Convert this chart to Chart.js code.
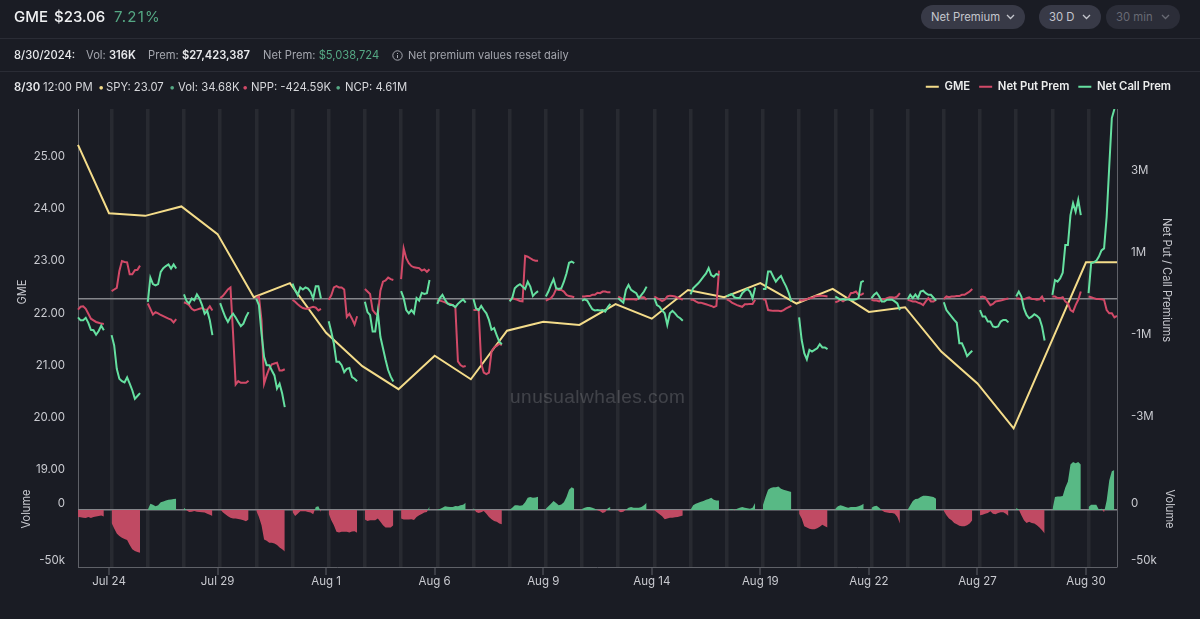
<!DOCTYPE html>
<html>
<head>
<meta charset="utf-8">
<script src="https://cdn.jsdelivr.net/npm/chart.js@4"></script>
<style>
  html, body { margin: 0; padding: 0; background: #1a1c24; }
  body { width: 1200px; height: 619px; position: relative; overflow: hidden; font-family: Inter, sans-serif; color: #e8e9ec; }
  canvas { position: absolute; left: 0; top: 0; }
  .t { position: absolute; white-space: nowrap; line-height: 1; }
  .hr { position: absolute; left: 0; width: 1200px; height: 1px; background: #2a2c35; }
  .s { font-size: 11.2px; top: 49.5px; }
  .s3 { font-size: 11.3px; top: 81.5px; color: #d6d7db; }
  .g { color: #a4a6ae; }
  .b { font-weight: 600; color: #e8e9ec; }
  .up { color: #55a884; }
  .pill { position: absolute; top: 5px; height: 24px; border-radius: 12px; background: #383a47; color: #c4c6cd; font-size: 11.3px; line-height: 24px; text-align: left; padding-left: 10px; box-sizing: border-box; }
  .pill svg { position: absolute; top: 9px; width: 9px; height: 6px; }
  .rot { position: absolute; white-space: nowrap; font-size: 11.1px; line-height: 1; color: #c9cad0; transform: translate(-50%, -50%) rotate(-90deg); }
  .rot.r { transform: translate(-50%, -50%) rotate(90deg); }
  #wm { left: 510px; top: 386px; font: 19px "Liberation Sans", sans-serif; letter-spacing: .5px; color: rgba(255,255,255,.17); }
</style>
</head>
<body>
<canvas id="myChart" width="1200" height="619"></canvas>
<div class="t" id="wm">unusualwhales.com</div>

<div class="t" style="left:14px;top:9px;font-size:15px;font-weight:500;color:#f0f1f3">GME</div>
<div class="t" style="left:54px;top:9px;font-size:15px;font-weight:500;color:#f0f1f3">$23.06</div>
<div class="t up" style="left:114px;top:9px;font-size:15px;letter-spacing:1.2px">7.21%</div>
<div class="pill" style="left:921px;width:104px">Net Premium<svg style="right:10px" viewBox="0 0 9 6"><path d="M1 1l3.5 3.5L8 1" fill="none" stroke="#c4c6cd" stroke-width="1.3"/></svg></div>
<div class="pill" style="left:1039px;width:62px">30 D<svg style="right:10px" viewBox="0 0 9 6"><path d="M1 1l3.5 3.5L8 1" fill="none" stroke="#c4c6cd" stroke-width="1.3"/></svg></div>
<div class="pill" style="left:1106px;width:74px;background:#2b2d38;color:#686a74">30 min<svg style="right:10px" viewBox="0 0 9 6"><path d="M1 1l3.5 3.5L8 1" fill="none" stroke="#686a74" stroke-width="1.3"/></svg></div>
<div class="hr" style="top:38px"></div>

<div class="t s" style="left:14px;font-weight:500">8/30/2024:</div>
<div class="t s g" style="left:86px">Vol: <span class="b">316K</span></div>
<div class="t s g" style="left:148px">Prem: <span class="b">$27,423,387</span></div>
<div class="t s g" style="left:263px">Net Prem: <span class="up">$5,038,724</span></div>
<svg style="position:absolute;left:392px;top:50px" width="11" height="11" viewBox="0 0 11 11"><circle cx="5.5" cy="5.5" r="4.7" fill="none" stroke="#a4a6ae"/><path d="M5.5 5v3M5.5 3v1" stroke="#a4a6ae"/></svg>
<div class="t s g" style="left:408px;font-size:11px">Net premium values reset daily</div>
<div class="hr" style="top:71px"></div>

<div class="t s3" style="left:14px"><span class="b">8/30</span></div>
<div class="t s3" style="left:43px">12:00 PM</div>
<div class="t s3" style="left:98px;color:#f4dc8a">•</div>
<div class="t s3" style="left:106px">SPY: 23.07</div>
<div class="t s3" style="left:169px;color:#55a884">•</div>
<div class="t s3" style="left:178px">Vol: 34.68K</div>
<div class="t s3" style="left:242px;color:#d24a68">•</div>
<div class="t s3" style="left:251px">NPP: -424.59K</div>
<div class="t s3" style="left:335px;color:#55a884">•</div>
<div class="t s3" style="left:345px">NCP: 4.61M</div>

<div class="rot" style="left:23px;top:292px">GME</div>
<div class="rot" style="left:27px;top:509px">Volume</div>
<div class="rot r" style="left:1166px;top:280px">Net Put / Call Premiums</div>
<div class="rot r" style="left:1169px;top:509px">Volume</div>

<script>
const days = ['Jul 23', 'Jul 24', 'Jul 25', 'Jul 26', 'Jul 29', 'Jul 30', 'Jul 31', 'Aug 1', 'Aug 2', 'Aug 5', 'Aug 6', 'Aug 7', 'Aug 8', 'Aug 9', 'Aug 12', 'Aug 13', 'Aug 14', 'Aug 15', 'Aug 16', 'Aug 19', 'Aug 20', 'Aug 21', 'Aug 22', 'Aug 23', 'Aug 26', 'Aug 27', 'Aug 28', 'Aug 29', 'Aug 30'];

// daily close, the last one is the latest print
const gmeClose = [25.34, 24.03, 23.98, 24.16, 23.63, 22.42, 22.69, 21.74, 21.10, 20.66, 21.30, 20.85, 21.78, 21.95, 21.89, 22.29, 22.01, 22.56, 22.42, 22.69, 22.30, 22.58, 22.14, 22.23, 21.38, 20.77, 19.91, 21.50, 23.09];
const gmeLast = 23.09;

// intraday values per day, in $M
const netPut = [
  [-.26, -.19, -.18, -.24, -.36, -.48, -.52, -.56, -.58, -.60, -.61],
  [.19, .23, .27, .68, .92, .90, .89, .60, .60, .70, .71, .81],
  [-.11, -.24, -.38, -.32, -.35, -.39, -.42, -.45, -.48, -.50, -.57, -.49],
  [-.08, -.11, -.15, -.24, -.28, -.26, -.24, -.22, -.26, -.26, -.18, -.28],
  [.02, .07, .15, .23, .28, -.84, -2.08, -2.0, -2.04, -2.04, -2.04, -1.99],
  [.03, .06, -.52, -2.06, -1.86, -1.69, -1.59, -1.57, -1.55, -1.74, -1.74, -1.71],
  [-.02, -.07, -.13, -.18, -.22, -.24, -.24, -.21, -.19, -.21, -.28, -.24],
  [-.02, .09, .28, .31, .28, .28, .23, -.44, -.36, -.48, -.62, -.42],
  [.24, .18, .12, -.27, -.35, -.41, .20, .42, .45, .52, .48, .46],
  [.48, 1.23, .99, .87, .80, .77, .76, .75, .69, .72, .66, .72],
  [-.02, -.04, -.06, -.08, -.11, -.12, -.15, -.20, -1.52, -1.61, -1.65, -1.63],
  [-.27, -.27, -.25, -1.57, -1.79, -1.83, -1.79, -1.28, -1.18, -1.14, -1.09, -1.12],
  [-.04, .02, 0, -.02, -.05, -.06, 1.05, 1.03, .99, .95, .93, .93],
  [-.04, -.01, .02, .10, .24, .22, .22, .18, .10, .07, .06, .04],
  [.06, .06, .07, .07, .10, .10, .15, .14, .18, .18, .16, .16],
  [.06, .02, -.01, -.01, -.01, -.01, -.01, -.02, .02, .04, .04, -.02],
  [.06, .02, -.01, -.05, -.02, .06, .08, .07, .06, .03, .01, -.02],
  [-.02, -.02, -.06, -.09, -.09, -.11, -.13, -.15, -.17, -.20, -.17, .69],
  [-.01, -.04, -.09, -.12, -.15, -.17, -.19, -.13, -.13, -.12, -.12, -.02],
  [-.01, -.02, -.27, -.28, -.29, -.29, -.29, -.30, -.27, -.23, -.20, -.17],
  [-.02, -.04, -.02, -.01, .02, .02, .06, .07, .08, .08, .07, .06],
  [-.08, -.06, -.02, -.06, -.02, .02, .14, .15, .18, .10, .10, .14],
  [-.02, -.04, -.04, -.06, -.01, -.01, .02, .04, .04, .03, .06, .14],
  [-.02, -.04, -.06, -.06, -.09, -.11, -.15, -.06, .02, -.06, -.06, -.02],
  [0, .06, .04, .06, .06, .07, .07, .10, .10, .14, .18, .24],
  [.04, .06, .04, -.06, -.15, -.12, -.06, -.05, -.04, -.02, 0, .01],
  [.01, .01, -.01, -.01, .02, .04, 0, 0, -.02, -.01, .06, -.07],
  [.06, .06, .02, .02, .04, -.06, -.11, -.27, -.31, -.15, -.02, .18],
  [.06, .04, .02, 0, 0, -.01, -.02, -.27, -.35, -.35, -.45, -.41]
];

const netCall = [
  [-.45, -.52, -.52, -.46, -.58, -.75, -.76, -.87, -.78, -.65, -.76],
  [-.88, -1.13, -1.70, -1.94, -2.00, -2.03, -1.91, -2.06, -2.22, -2.43, -2.36, -2.29],
  [-.07, .52, .36, .33, .36, .66, .75, .80, .84, .74, .84, .74],
  [.11, -.05, -.11, .01, -.03, .11, .01, -.15, -.36, -.29, -.52, -.88],
  [-.10, -.28, -.44, -.56, -.44, -.36, -.45, -.56, -.66, -.60, -.44, -.32],
  [0, -.15, -.84, -1.41, -1.61, -1.61, -1.74, -1.86, -2.18, -2.06, -2.30, -2.63],
  [.37, .21, .09, .28, .23, .28, .25, .17, .01, .31, .31, .01],
  [-.54, -.80, -1.09, -1.53, -1.53, -1.61, -1.78, -1.70, -1.68, -1.90, -1.94, -2.0],
  [-.07, -.32, -.39, -.79, -.79, -.31, -.92, -1.2, -1.48, -1.73, -1.89, -2.01],
  [.19, .02, -.27, -.35, -.27, -.35, .02, -.04, .15, .12, .14, .46],
  [-.12, .02, .10, -.02, -.11, -.15, -.15, -.20, -.12, -.06, -.01, -.09],
  [0, -.23, -.27, -.17, -.27, -.35, -.51, -.75, -.71, -.88, -1.04, -1.10],
  [-.06, .02, .26, .32, .36, .30, .24, .42, .30, .07, .14, .19],
  [.06, .18, .34, .48, .26, .24, .26, .42, .62, .88, .91, .87],
  [-.04, -.01, -.04, -.15, -.25, -.28, -.27, -.28, -.27, -.31, -.20, -.12],
  [.02, -.04, -.09, .22, .34, .22, .18, .14, .02, .10, .18, .30],
  [.02, -.15, -.19, -.28, -.35, -.63, -.35, -.29, -.35, -.43, -.47, -.53],
  [.11, .26, .32, .38, .46, .54, .62, .75, .58, .54, .61, .58],
  [.06, .10, .12, .04, .02, .02, .14, .20, .24, .18, .02, .28],
  [.24, .24, .67, .67, .54, .42, .50, .56, .42, .30, .14, -.06],
  [-.45, -1.0, -1.32, -1.47, -1.24, -1.28, -1.24, -1.20, -1.10, -1.18, -1.18, -1.22],
  [.06, .02, -.02, 0, -.02, -.01, -.02, -.02, -.01, .02, .41, .44],
  [.02, .10, .15, .06, -.06, -.06, -.02, -.02, -.02, -.06, -.11, -.27],
  [-.01, .10, .02, .11, .02, .18, .20, .14, .10, .10, .03, -.04],
  [-.08, -.27, -.35, -.43, -.51, -.58, -1.08, -1.08, -1.22, -1.39, -1.32, -1.26],
  [-.27, -.43, -.43, -.55, -.55, -.67, -.69, -.67, -.55, -.51, -.51, -.57],
  [.06, .18, .06, -.23, -.39, -.47, -.43, -.37, -.41, -.47, -.67, -1.01],
  [.10, .46, .42, .50, .64, 1.31, 1.31, 2.04, 2.33, 2.12, 2.41, 2.04],
  [.14, .87, .89, .93, 1.03, 1.18, 1.23, 2.0, 3.22, 4.4, 4.62]
];

// volume delta per day, in thousands
const volume = [
  [-6.1, -6.4, -6.7, -7, -6.1, -7, -6.1, -5.8, -5.2, -4.9, -5.8],
  [-11.3, -16.2, -20.6, -22.9, -24.4, -25.5, -26.4, -30.7, -34.5, -36, -36.8, -37.4],
  [.3, 5.5, 4.6, 3.2, 4.1, 6.9, 7.5, 8.4, 9, 9.3, 9.6, 9.9],
  [2, -.3, -1.7, -1.5, -.9, -1.5, -1.7, -2, -2.3, -3.2, -4.1, -5.2],
  [.9, -2, -3.8, -5.5, -6.7, -7.5, -7.5, -7.8, -8.4, -9, -9.9, -8.4],
  [-.9, -6.1, -13.3, -25.8, -27, -28.7, -28.7, -29.3, -30.7, -32.8, -34.5, -36.5],
  [-1.7, -5.2, -3.2, -1.2, -1.2, -1.2, -1.7, -2.3, -3.8, 2.6, 3.2, -1.7],
  [-3.2, -9, -13.3, -19.1, -19.7, -19.1, -19.1, -19.1, -19.7, -18.9, -18.6, -20],
  [-8.4, -9.6, -9, -9, -9, -7.5, -10.4, -13.3, -15.4, -15.4, -15.4, -13.3],
  [-7.5, -8.4, -8.4, -8.4, -8.1, -8.7, -6.1, -4.6, -3.5, -2.3, -1.7, 3.2],
  [.3, .9, 2, 3.2, 2.9, 2.6, 2.6, 3.5, 3.2, 4.1, 4.6, 6.4],
  [2, -1.7, -2.6, -2, -.9, -3.2, -6.1, -8.1, -9.6, -10.4, -11.9, -12.5],
  [.3, 2, 4.1, 4.1, 3.8, 4.1, 6.9, 10.7, 11.3, 10.7, 11, 11.6],
  [1.2, 3.2, 5.5, 7.8, 6.1, 4.1, 4.9, 6.9, 11.3, 17.7, 20, 18.6],
  [.9, 2, 2.6, 2.6, 2, 1.2, -.3, -1.2, -2.6, -1.7, 1.5, 2.6],
  [-.9, -2, -1.5, .3, 2, 2.6, 2, 2, 2, 2.6, 4.1, 6.4],
  [-.3, -2, -3.8, -5.5, -8.1, -7.5, -6.7, -6.7, -6.4, -6.1, -5.5, -4.9],
  [.3, 4.1, 5.5, 6.4, 7.3, 7.8, 9, 9.6, 10.7, 9, 8.4, 8.4],
  [-.3, .3, .9, -.3, 1.2, 2, 2.6, 2, 1.5, 1.2, 2, 6.4],
  [4.1, 11.3, 17.7, 19.4, 20, 20, 20.6, 18.6, 17.7, 17.1, 16.5, 15.7],
  [-3.2, -7.5, -14.2, -15.4, -16.5, -16.8, -16.8, -15.9, -14.8, -13, -14.2, -15.4],
  [1.2, 3.2, 4.1, 3.5, 2.6, 2, 2.6, 2.6, 2.6, 3.2, 4.1, 5.5],
  [2, 3.2, 3.8, 2, -.3, -1.7, -2.3, -2.6, -2.6, -3.2, -6.1, -11.9],
  [.3, 4.1, 7.8, 9.6, 9.9, 11.3, 12.5, 12.5, 12.2, 11.9, 11.3, 9.9],
  [-.9, -4.6, -7.5, -9, -11.3, -12.5, -13.9, -14.2, -14.2, -13.3, -11.9, -9],
  [-4.6, -4.1, -3.2, -2.6, -1.2, -3.2, -3.8, -2.6, -2, -2, -3.2, -5.2],
  [2, .3, -4.6, -9, -11.3, -10.4, -11.3, -11.9, -13.3, -15.4, -17.7, -20.6],
  [.3, 11.3, 11.9, 11.9, 12.2, 19.7, 25, 40, 42, 41, 42, 40],
  [2.6, 4.6, 4.6, 4.6, .3, 1.2, -2, 8.4, 25.8, 33.9, 35.1]
];

const priceTicks = [19, 20, 21, 22, 23, 24, 25];
const premTicks = [-3, -1, 0, 1, 3];
const volTicks = [-50, 0];

const YELLOW = '#f4dc8a', PINK = '#d24a68', GREEN = '#65e0a0';
const AXIS = '#5f6168', TEXT = '#c9cad0', STRIPE = '#282a31';
const FONT = { family: 'Inter', size: 11.5 };

// x axis is slot based: each session has 14 slots, the first one is cut to 13 and the last to 12
const SLOTS = 403;
const dayStart = k => (k === 0 ? 0 : 13 + 14 * (k - 1));
const labels = new Array(SLOTS).fill('');
days.forEach((d, k) => { if (k % 3 === 1) labels[dayStart(k) - 1] = d; });

function spread(perDay) {
  const out = new Array(SLOTS).fill(null);
  perDay.forEach((vals, k) => vals.forEach((v, i) => { out[dayStart(k) + i] = v; }));
  return out;
}

const gmeData = new Array(SLOTS).fill(null);
gmeClose.forEach((v, k) => { gmeData[k === 0 ? 0 : dayStart(k) - 1] = v; });
gmeData[SLOTS - 1] = gmeLast;

const isStripe = i => i >= 13 && (i - 13) % 14 === 0;
const zeroLine = ctx => (ctx.tick && ctx.tick.value === 0 ? '#85868b' : 'transparent');
const volLabel = v => (v === 0 ? '0' : v + 'k');

function lineSet(label, data, color, yAxisID, order, spanGaps) {
  return { label, data, yAxisID, order, spanGaps, borderColor: color, backgroundColor: color, borderWidth: 2, pointRadius: 0, tension: 0 };
}

// legend row is a bit taller than its content, and the volume axes take no room
// but their labels still need an area to draw in
const layoutTweaks = {
  id: 'layoutTweaks',
  beforeInit(chart) {
    const fit = chart.legend.fit;
    chart.legend.fit = function () { fit.call(this); this.height = 37; };
  },
  afterLayout(chart) {
    chart.scales.vol.left = 0;
    chart.scales.volRight.right = chart.width;
  }
};

new Chart(document.getElementById('myChart'), {
  type: 'line',
  plugins: [layoutTweaks],
  data: {
    labels: labels,
    datasets: [
      lineSet('GME', gmeData, YELLOW, 'price', 3, true),
      lineSet('Net Put Prem', spread(netPut), PINK, 'prem', 2, false),
      lineSet('Net Call Prem', spread(netCall), GREEN, 'prem', 1, false),
      {
        label: 'Volume', data: spread(volume), yAxisID: 'vol', order: 4, borderWidth: 0, pointRadius: 0,
        fill: { target: 'origin', above: '#58b985', below: '#c04a63' }
      }
    ]
  },
  options: {
    responsive: false,
    animation: false,
    layout: { padding: { top: 72, right: 20, left: 0, bottom: 0 } },
    plugins: {
      tooltip: { enabled: false },
      legend: {
        position: 'top',
        align: 'end',
        labels: {
          boxWidth: 13, boxHeight: 0, padding: 9, color: '#eceded',
          font: { family: 'Inter', size: 11.3, weight: '600' },
          filter: item => item.datasetIndex !== 3,
          sort: (a, b) => a.datasetIndex - b.datasetIndex
        }
      }
    },
    scales: {
      x: {
        type: 'category',
        border: { color: AXIS, width: 1 },
        grid: {
          color: ctx => (isStripe(ctx.index) ? STRIPE : 'transparent'),
          lineWidth: ctx => (isStripe(ctx.index) ? 3.5 : 0),
          tickColor: ctx => (labels[ctx.index] ? AXIS : 'transparent'),
          tickWidth: ctx => (labels[ctx.index] ? 1 : 0),
          tickLength: 8,
          z: -1
        },
        ticks: {
          autoSkip: false, maxRotation: 0, minRotation: 0, padding: 0, color: TEXT, font: FONT,
          callback(value) { return labels[value]; }
        },
        afterFit(scale) { scale.height = 52; }
      },
      price: {
        position: 'left', weight: 1, min: 17.253, max: 26.027,
        border: { color: AXIS, width: 1 },
        grid: { display: false, drawTicks: false },
        ticks: { autoSkip: false, padding: 13, labelOffset: -6, color: TEXT, font: FONT, callback: v => v.toFixed(2) },
        afterBuildTicks(scale) { scale.ticks = priceTicks.map(value => ({ value })); },
        afterFit(scale) { scale.width = 78; }
      },
      vol: {
        position: 'left', weight: 0, min: -50, max: 351.75,
        border: { display: false },
        grid: { color: zeroLine, lineWidth: 1.5, drawTicks: false, z: 0 },
        ticks: { autoSkip: false, padding: 13, labelOffset: -6, color: TEXT, font: FONT, callback: volLabel },
        afterBuildTicks(scale) { scale.ticks = volTicks.map(value => ({ value })); },
        afterFit(scale) { scale.width = 0; }
      },
      prem: {
        position: 'right', weight: 1, min: -6.52, max: 4.62,
        border: { color: AXIS, width: 1 },
        grid: { color: zeroLine, lineWidth: 1.5, drawTicks: false, z: 0 },
        ticks: { autoSkip: false, padding: 14, labelOffset: -5.5, color: TEXT, font: FONT, callback: v => (v === 0 ? '' : v + 'M') },
        afterBuildTicks(scale) { scale.ticks = premTicks.map(value => ({ value })); },
        afterFit(scale) { scale.width = 63; }
      },
      volRight: {
        position: 'right', weight: 0, min: -50, max: 351.75,
        border: { display: false },
        grid: { display: false, drawTicks: false },
        ticks: { autoSkip: false, padding: 14, labelOffset: -6, color: TEXT, font: FONT, callback: volLabel },
        afterBuildTicks(scale) { scale.ticks = volTicks.map(value => ({ value })); },
        afterFit(scale) { scale.width = 0; }
      }
    }
  }
});
</script>
</body>
</html>
